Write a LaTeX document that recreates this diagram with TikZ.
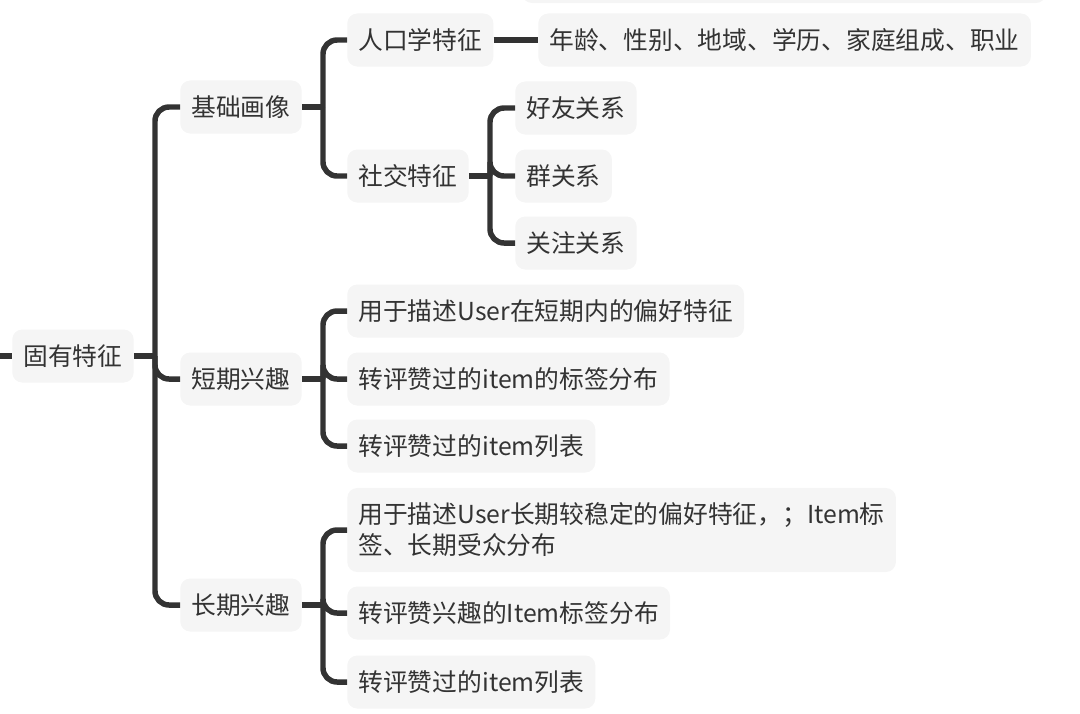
\documentclass[tikz,border=0pt]{standalone}
\usepackage{fontspec}
\setmainfont{Noto Sans CJK SC}
\usetikzlibrary{calc}
\definecolor{boxgray}{HTML}{F5F5F5}
\definecolor{inkgray}{HTML}{333333}

\begin{document}
\begin{tikzpicture}[x=0.025cm, y=-0.025cm,
    topic/.style = {fill=boxgray, rounded corners=0.25cm, anchor=west, inner xsep=0.28cm, inner ysep=0pt,
        minimum height=1.325cm, text=inkgray, font=\fontsize{17.6}{22}\selectfont},
    link/.style = {draw=inkgray, line width=3.9pt, rounded corners=0.35cm}]
    % Frame
    \useasboundingbox (0,0) rectangle (1080,713);
    \clip (0,0) rectangle (1080,713);
    % Box cut off at the top
    \fill[boxgray, rounded corners=0.25cm] (522,-60) rectangle (1046,3);

    % Root
    \node[topic] (gyt) at (12,356) {固有特征};
    \coordinate (in) at (-10,356);
    \draw[link] (in) -- (gyt.west);

    % First level
    \node[topic] (jchx) at (180,107) {基础画像};
    \node[topic] (dqxq) at (180,379) {短期兴趣};
    \node[topic] (cqxq) at (180,605) {长期兴趣};

    % Basic profile
    \node[topic] (rkx) at (347,40) {人口学特征};
    \node[topic] (sjtz) at (347,176) {社交特征};
    \node[topic] (nl) at (538,40) {年龄、性别、地域、学历、家庭组成、职业};
    \node[topic] (hy) at (515,108) {好友关系};
    \node[topic] (qgx) at (515,176) {群关系};
    \node[topic] (gz) at (515,243) {关注关系};

    % Short-term interest
    \node[topic] (d1) at (347,311) {用于描述User在短期内的偏好特征};
    \node[topic] (d2) at (347,379) {转评赞过的item的标签分布};
    \node[topic] (d3) at (347,446) {转评赞过的item列表};

    % Long-term interest
    \node[topic, minimum height=2.1cm, align=left] (c1) at (347,530)
        {用于描述User长期较稳定的偏好特征，；Item标\\签、长期受众分布};
    \node[topic] (c2) at (347,613) {转评赞兴趣的Item标签分布};
    \node[topic] (c3) at (347,682) {转评赞过的item列表};

    % Branch points
    \coordinate (t0) at (155,356);
    \coordinate (t1) at (323,107);
    \coordinate (t2) at (490,176);
    \coordinate (t3) at (323,379);
    \coordinate (t4) at (323,605);

    % Connectors
    \draw[link] (gyt.east) -- (t0);
    \foreach \kid in {jchx,dqxq,cqxq}
        \draw[link] (t0) |- (\kid.west);
    \draw[link] (jchx.east) -- (t1);
    \foreach \kid in {rkx,sjtz}
        \draw[link] (t1) |- (\kid.west);
    \draw[link] (rkx.east) -- (nl.west);
    \draw[link] (sjtz.east) -- (t2);
    \foreach \kid in {hy,qgx,gz}
        \draw[link] (t2) |- (\kid.west);
    \draw[link] (dqxq.east) -- (t3);
    \foreach \kid in {d1,d2,d3}
        \draw[link] (t3) |- (\kid.west);
    \draw[link] (cqxq.east) -- (t4);
    \foreach \kid in {c1,c2,c3}
        \draw[link] (t4) |- (\kid.west);
\end{tikzpicture}
\end{document}
